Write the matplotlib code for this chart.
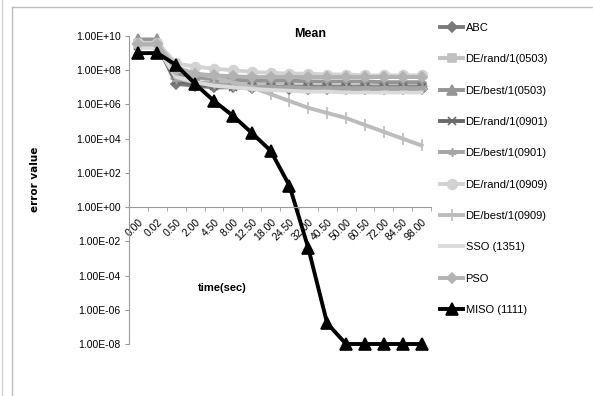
import matplotlib.pyplot as plt
from matplotlib.lines import Line2D
from matplotlib.ticker import FixedLocator, FuncFormatter, NullLocator

# time categories (seconds)
times = ["0.00", "0.02", "0.50", "2.00", "4.50", "8.00", "12.50", "18.00",
         "24.50", "32.00", "40.50", "50.00", "60.50", "72.00", "84.50", "98.00"]

# mean error values (log scale)
abc = [3.2e9, 3.2e9, 1.6e7, 1.25e7, 1e7, 1e7, 9e6, 9e6, 8e6, 8e6, 8e6, 8e6, 8e6, 8e6, 8e6, 8e6]
de_rand_0503 = [3.2e9, 3.2e9, 8e7, 4e7, 2.5e7, 2e7, 1.6e7, 1.6e7, 1.4e7, 1.25e7, 1.25e7,
                1.25e7, 1.25e7, 1.25e7, 1.25e7, 1.25e7]
de_best_0503 = [6.3e9, 6.3e9, 6.3e7, 4e7, 3.2e7, 2.8e7, 2.5e7, 2.5e7, 2.5e7, 2.2e7, 2.2e7,
                2.2e7, 2.2e7, 2e7, 2e7, 2e7]
de_rand_0901 = [2.5e9, 2.5e9, 2.5e7, 1.6e7, 1.25e7, 1.1e7, 1e7, 1e7, 1e7, 1e7, 1e7,
                1e7, 1e7, 1e7, 1e7, 1e7]
de_best_0901 = [2.5e9, 2.5e9, 3.2e7, 2e7, 1.6e7, 1.25e7, 1.1e7, 1e7, 1e7, 9e6, 9e6,
                9e6, 9e6, 9e6, 9e6, 9e6]
de_rand_0909 = [4e9, 4e9, 2.5e8, 1.6e8, 1.25e8, 1e8, 8e7, 7e7, 6.3e7, 6.3e7, 5.6e7,
                5.6e7, 5e7, 5e7, 5e7, 5e7]
de_best_0909 = [3.2e9, 3.2e9, 1.6e8, 6.3e7, 4e7, 2e7, 1e7, 4e6, 1.6e6, 6.3e5, 3.2e5,
                1.6e5, 6.3e4, 2.5e4, 1e4, 4e3]
sso = [2e9, 2e9, 4e7, 2e7, 1.25e7, 1e7, 8e6, 7e6, 6.3e6, 5.6e6, 5.6e6, 5e6, 5e6, 5e6, 5e6, 5e6]
pso = [3.2e9, 3.2e9, 1e8, 6.3e7, 5e7, 4.5e7, 4e7, 4e7, 4e7, 4e7, 4e7, 4e7, 4e7, 4e7, 4e7, 4e7]
miso = [1e9, 1e9, 2e8, 1.6e7, 1.6e6, 2.2e5, 2.2e4, 2e3, 18, 4e-3, 1.6e-7, 1e-8, 1e-8, 1e-8, 1e-8, 1e-8]

y_ticks = [1e-8, 1e-6, 1e-4, 1e-2, 1e0, 1e2, 1e4, 1e6, 1e8, 1e10]

plt.rcParams["font.family"] = ["Liberation Sans Narrow", "Liberation Sans", "DejaVu Sans"]

fig = plt.figure(figsize=(5.93, 3.96), dpi=100)
ax = fig.add_axes([129 / 593, 1 - 344 / 396, 302 / 593, 308 / 396])

x = list(range(len(times)))
series = [
    ("ABC", abc, "#7a7a7a", "D", 5),
    ("DE/rand/1(0503)", de_rand_0503, "#c0c0c0", "s", 6),
    ("DE/best/1(0503)", de_best_0503, "#959595", "^", 7),
    ("DE/rand/1(0901)", de_rand_0901, "#6a6a6a", "x", 6),
    ("DE/best/1(0901)", de_best_0901, "#a5a5a5", (6, 2, 0), 6),
    ("DE/rand/1(0909)", de_rand_0909, "#d2d2d2", "o", 7),
    ("DE/best/1(0909)", de_best_0909, "#bcbcbc", "|", 9),
    ("SSO (1351)", sso, "#dadada", None, 0),
    ("PSO", pso, "#b2b2b2", "D", 5),
    ("MISO (1111)", miso, "#000000", "^", 8),
]
handles = []
for name, vals, col, mk, ms in series:
    ln, = ax.plot(x, vals, color=col, lw=2.8, marker=mk, ms=ms, mfc=col, mec=col,
                  mew=1.2, label=name, clip_on=False)
    handles.append(ln)

ax.set_yscale("log")
ax.set_ylim(1e-8, 1e10)
ax.set_xlim(-0.5, len(times) - 0.5)
ax.yaxis.set_major_locator(FixedLocator(y_ticks))
ax.yaxis.set_minor_locator(NullLocator())
ax.yaxis.set_major_formatter(FuncFormatter(lambda v, p: "{:.2E}".format(v)))
ax.tick_params(axis="y", labelsize=7.5, length=3, color="#9a9a9a", pad=3)

ax.spines["top"].set_visible(False)
ax.spines["right"].set_visible(False)
ax.spines["left"].set_color("#9a9a9a")
ax.spines["bottom"].set_color("#9a9a9a")
ax.spines["bottom"].set_position(("data", 1))

ax.set_xticks(x)
ax.set_xticklabels(times, rotation=45, ha="right", va="top", rotation_mode="anchor",
                   fontsize=7.5)
ax.xaxis.set_minor_locator(FixedLocator([i + 0.5 for i in x[:-1]] + [-0.5, len(times) - 0.5]))
ax.tick_params(axis="x", which="major", length=0, pad=7)
ax.tick_params(axis="x", which="minor", length=3, color="#9a9a9a")

fig.text(310 / 593, 1 - 34 / 396, "Mean", ha="center", va="center", fontsize=9,
         fontweight="bold")
fig.text(35 / 593, 1 - 179 / 396, "error value", ha="center", va="center", rotation=90,
         fontsize=7.5, fontweight="bold", family=["DejaVu Sans"])
fig.text(222 / 593, 1 - 288 / 396, "time(sec)", ha="center", va="center", fontsize=8,
         fontweight="bold")

fig.legend(handles=handles, loc="upper left", bbox_to_anchor=(430 / 593, 1 - 13 / 396),
           frameon=False, fontsize=8, labelspacing=1.92, handlelength=2.1,
           handletextpad=0.2)

# chart area border
fig.add_artist(Line2D([12 / 593, 12 / 593], [0, 1 - 7 / 396], color="#bdbdbd", lw=1))
fig.add_artist(Line2D([12 / 593, 1], [1 - 7 / 396, 1 - 7 / 396], color="#bdbdbd", lw=1))
fig.add_artist(Line2D([1.5 / 593, 1.5 / 593], [0, 1], color="#d0d0d0", lw=1))

fig.savefig("out.png", dpi=100)
